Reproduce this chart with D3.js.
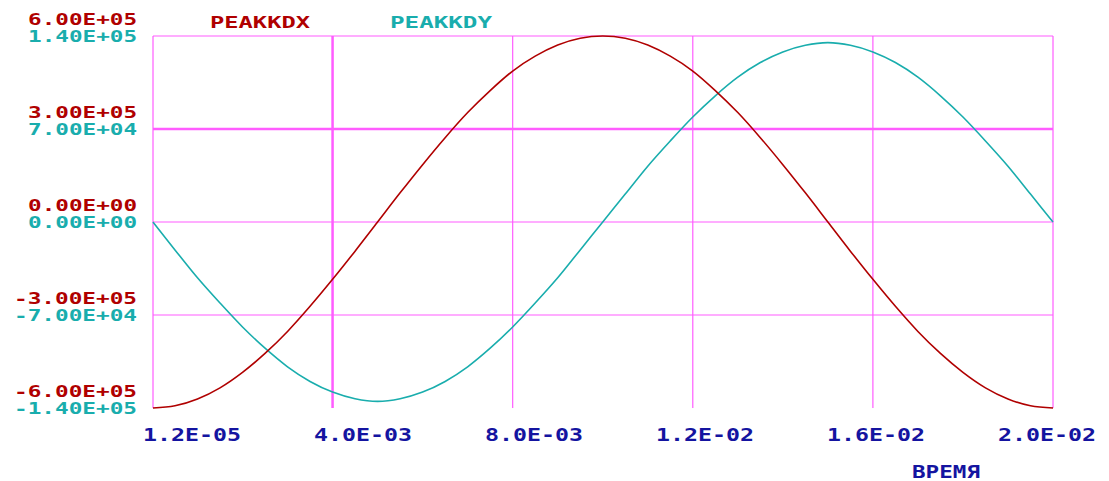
<!DOCTYPE html>
<html>
<head>
<meta charset="utf-8">
<script src="https://cdn.jsdelivr.net/npm/d3@7"></script>
<style>
  body { margin: 0; background: #fff; }
  text { font-family: "DejaVu Sans Mono", monospace; font-weight: bold; }
</style>
</head>
<body>
<script>
// time points, s
let times = [0.000012, 0.0005, 0.001, 0.0015, 0.002, 0.0025, 0.003, 0.0035, 0.004, 0.0045,
             0.005, 0.0055, 0.006, 0.0065, 0.007, 0.0075, 0.008, 0.0085, 0.009, 0.0095,
             0.01, 0.0105, 0.011, 0.0115, 0.012, 0.0125, 0.013, 0.0135, 0.014, 0.0145,
             0.015, 0.0155, 0.016, 0.0165, 0.017, 0.0175, 0.018, 0.0185, 0.019, 0.0195, 0.02]
// PEAKKDX
let reacX = [-600000, -593000, -571000, -535000, -485000, -424000, -353000, -272000, -185000, -94000,
             0, 94000, 185000, 272000, 353000, 424000, 487000, 535000, 571000, 593000,
             600000, 593000, 571000, 535000, 487000, 424000, 353000, 272000, 185000, 94000,
             0, -94000, -185000, -272000, -353000, -424000, -485000, -535000, -571000, -593000, -600000]
// PEAKKDY
let reacY = [0, -21000, -42000, -61000, -79000, -95000, -109000, -120000, -128000, -133000,
             -135000, -133000, -128000, -120000, -109000, -95000, -79000, -61000, -42000, -21000,
             0, 21000, 42000, 61000, 79000, 95000, 109000, 120000, 128000, 133000,
             135000, 133000, 128000, 120000, 109000, 95000, 79000, 61000, 42000, 21000, 0]

let xTicks = [0.000012, 0.004, 0.008, 0.012, 0.016, 0.02]
let xTickLabels = ["1.2E-05", "4.0E-03", "8.0E-03", "1.2E-02", "1.6E-02", "2.0E-02"]
let yTicksX = [-600000, -300000, 0, 300000, 600000]
let yLabelsX = ["-6.00E+05", "-3.00E+05", "0.00E+00", "3.00E+05", "6.00E+05"]
let yTicksY = [-140000, -70000, 0, 70000, 140000]
let yLabelsY = ["-1.40E+05", "-7.00E+04", "0.00E+00", "7.00E+04", "1.40E+05"]

const width = 1109, height = 481
const red = "#b00000", cyan = "#19adad", blue = "#1414a0", grid = "#ff5cff"

let svg = d3.select("body").append("svg")
  .attr("width", width)
  .attr("height", height)

let x = d3.scaleLinear().domain([0.000012, 0.02]).range([153, 1053])
let yX = d3.scaleLinear().domain([-600000, 600000]).range([408, 36])
let yY = d3.scaleLinear().domain([-140000, 140000]).range([408, 36])
let xLab = d3.scalePoint().domain(xTickLabels).range([192, 1047])

// GRID
svg.append("g").selectAll("line")
  .data(xTicks)
  .enter().append("line")
    .attr("x1", d => x(d)).attr("x2", d => x(d))
    .attr("y1", 36).attr("y2", 408)
    .attr("stroke", grid)
    .attr("stroke-width", (d, i) => i == 1 ? 2.5 : 1.2)

svg.append("g").selectAll("line")
  .data(yTicksY.filter(d => d > -140000))
  .enter().append("line")
    .attr("x1", 153).attr("x2", 1053)
    .attr("y1", d => yY(d)).attr("y2", d => yY(d))
    .attr("stroke", grid)
    .attr("stroke-width", d => d == 70000 ? 2.5 : 1.2)

// CURVES
let lineX = d3.line().x((d, i) => x(times[i])).y(d => yX(d)).curve(d3.curveMonotoneX)
let lineY = d3.line().x((d, i) => x(times[i])).y(d => yY(d)).curve(d3.curveMonotoneX)

svg.append("path").datum(reacY)
  .attr("d", lineY).attr("fill", "none")
  .attr("stroke", cyan).attr("stroke-width", 1.6)
svg.append("path").datum(reacX)
  .attr("d", lineX).attr("fill", "none")
  .attr("stroke", red).attr("stroke-width", 1.6)

// Y LABELS
const charW = 14
svg.append("g").selectAll("text")
  .data(yTicksX)
  .enter().append("text")
    .attr("x", 137)
    .attr("y", (d, i) => yY(yTicksY[i]) - 17 + 6)
    .attr("text-anchor", "end")
    .attr("font-size", 16)
    .attr("fill", red)
    .attr("textLength", (d, i) => yLabelsX[i].length * charW - 3)
    .attr("lengthAdjust", "spacingAndGlyphs")
    .text((d, i) => yLabelsX[i])

svg.append("g").selectAll("text")
  .data(yTicksY)
  .enter().append("text")
    .attr("x", 137)
    .attr("y", d => yY(d) + 6)
    .attr("text-anchor", "end")
    .attr("font-size", 16)
    .attr("fill", cyan)
    .attr("textLength", (d, i) => yLabelsY[i].length * charW - 3)
    .attr("lengthAdjust", "spacingAndGlyphs")
    .text((d, i) => yLabelsY[i])

// X LABELS
svg.append("g").selectAll("text")
  .data(xTickLabels)
  .enter().append("text")
    .attr("x", d => xLab(d))
    .attr("y", 441)
    .attr("text-anchor", "middle")
    .attr("font-size", 17)
    .attr("fill", blue)
    .attr("textLength", 98)
    .attr("lengthAdjust", "spacingAndGlyphs")
    .text(d => d)

svg.append("text")
  .attr("x", 912).attr("y", 478)
  .attr("font-size", 17)
  .attr("fill", blue)
  .attr("textLength", 68)
  .attr("lengthAdjust", "spacingAndGlyphs")
  .text("ВРЕМЯ")

// LEGEND
svg.append("text")
  .attr("x", 210).attr("y", 28)
  .attr("font-size", 16).attr("fill", red)
  .attr("textLength", 100).attr("lengthAdjust", "spacingAndGlyphs")
  .text("PEAKKDX")
svg.append("text")
  .attr("x", 390).attr("y", 28)
  .attr("font-size", 16).attr("fill", cyan)
  .attr("textLength", 102).attr("lengthAdjust", "spacingAndGlyphs")
  .text("PEAKKDY")
</script>
</body>
</html>
